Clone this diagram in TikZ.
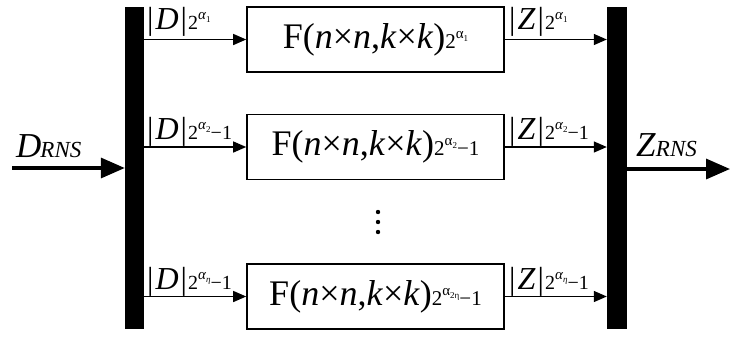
\documentclass[tikz,border=0pt]{standalone}
\usepackage{fontspec}
\setmainfont{Liberation Serif}
\usetikzlibrary{arrows.meta}
\newcommand{\fs}[1]{\fontsize{#1}{#1}\selectfont}
% label |X|_{2^{alpha_i}} (-1)
\newcommand{\lab}[3]{{\fs{32}|\hspace{2pt}\textit{#1}\hspace{2pt}|}\hspace{1pt}{\fs{20}2}\raisebox{10pt}{\fs{15}\textit{α}\raisebox{-3pt}{\fs{9}#2}}{\fs{20}#3}}
\newcommand{\fun}[2]{{\fs{36}F(\textit{n}×\textit{n},\textit{k}×\textit{k})}{\fs{21}2}\raisebox{10pt}{\fs{15}α\raisebox{-3pt}{\fs{9}#1}}{\fs{21}#2}}
\begin{document}
\begin{tikzpicture}[x=1pt,y=-1pt,
  bar/.style={fill=black,draw=none},
  fbox/.style={draw,line width=1.6pt,minimum width=257pt,minimum height=65pt,inner sep=0pt},
  thin/.style={line width=1.3pt,-{Triangle[length=13pt,width=11pt]}},
  thick/.style={line width=3.4pt,-{Triangle[length=24pt,width=20pt]}},
  lbl/.style={inner sep=0pt,anchor=base west}]
\useasboundingbox (0,0) rectangle (730,338);
% bars
\node[bar,minimum width=19pt,minimum height=322pt,inner sep=0pt] (L) at (134.5,168) {};
\node[bar,minimum width=20pt,minimum height=322pt,inner sep=0pt] (R) at (617,168) {};
% boxes
\node[fbox] (B1) at (375.5,39.5) {\fun{1}{}};
\node[fbox] (B2) at (375.5,147) {\fun{2}{−1}};
\node[fbox] (B3) at (375.5,296.5) {\fun{2η}{−1}};
% input/output
\coordinate (in) at (12,168);
\coordinate (out) at (730,169);
\draw[thick] (in) -- (L.west|-in);
\draw[thick] (R.east|-out) -- (out);
\node[lbl] (DR) at (16,157) {{\fs{35}\textit{D}}\hspace{-1pt}{\fs{23}\textit{RNS}}};
\node[lbl] (ZR) at (636,156) {{\fs{35}\textit{Z}}{\fs{23}\textit{RNS}}};
% branch arrows
\foreach \i in {1,2,3}{
  \draw[thin] (L.east|-B\i.west) -- (B\i.west);
  \draw[thin] (B\i.east) -- (R.west|-B\i.east);
}
% labels
\node[lbl] (d1) at (147,29) {\lab{D}{1}{}};
\node[lbl] (d2) at (147,139) {\lab{D}{2}{−1}};
\node[lbl] (d3) at (147,289) {\lab{D}{\textit{η}}{−1}};
\node[lbl] (z1) at (509,29) {\lab{Z}{1}{}};
\node[lbl] (z2) at (509,139) {\lab{Z}{2}{−1}};
\node[lbl] (z3) at (509,289) {\lab{Z}{\textit{η}}{−1}};
% dots
\foreach \y/\n in {212/a,222/b,232/c}
  \fill (378,\y) circle (2.2pt) coordinate (dot\n);
\end{tikzpicture}
\end{document}
